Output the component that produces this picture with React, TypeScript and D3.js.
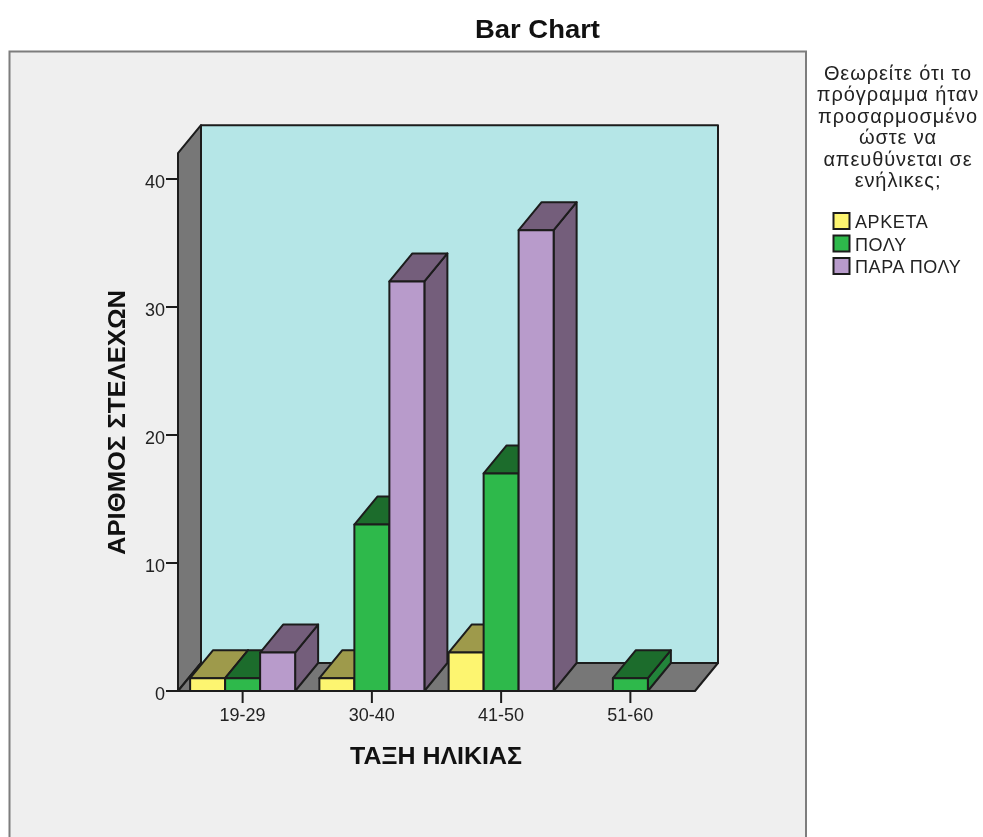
import React from "react";
import * as d3 from "d3";

const categories = ["19-29", "30-40", "41-50", "51-60"];
const seriesNames = ["ΑΡΚΕΤΑ", "ΠΟΛΥ", "ΠΑΡΑ ΠΟΛΥ"];
const arketa = [1, 1, 3, 0];
const poly = [1, 13, 17, 1];
const paraPoly = [3, 32, 36, 0];
const seriesValues = [arketa, poly, paraPoly];
const frontColors = ["#fdf570", "#2eb94b", "#b89bcb"];
const topColors = ["#9e9a4b", "#1c6c2c", "#745e7b"];
const sideColors = ["#9e9a4b", "#22843a", "#745e7b"];
const yTicks = [0, 10, 20, 30, 40];
const legendTitle = ["Θεωρείτε ότι το", "πρόγραμμα ήταν", "προσαρμοσμένο", "ώστε να", "απευθύνεται σε", "ενήλικες;"];

const font = "'Liberation Sans', Arial, sans-serif";
const stroke = "#1c1c1c";
const dx = 23;
const dy = -28;
const left = 178;
const right = 695;
const y = d3.scaleLinear().domain([0, 40]).range([691, 179]);
const x = d3.scaleBand<string>().domain(categories).range([left, right]);
const inner = d3.scaleBand<number>().domain([0, 1, 2]).range([-52.5, 52.5]);
const yTop = y(44.2);

const poly2 = (pts: number[][]) => pts.map((p) => p.join(",")).join(" ");

export default function App() {
  const bars: React.ReactNode[] = [];
  categories.forEach((c, ci) => {
    seriesValues.forEach((vals, si) => {
      const v = vals[ci];
      if (!v) return;
      const x0 = x(c)! + x.bandwidth() / 2 + inner(si)!;
      const x1 = x0 + inner.bandwidth();
      const yv = y(v);
      const y0 = y(0);
      bars.push(
        <g key={c + si} stroke={stroke} strokeWidth={2} strokeLinejoin="round">
          <polygon points={poly2([[x1, yv], [x1 + dx, yv + dy], [x1 + dx, y0 + dy], [x1, y0]])} fill={sideColors[si]} />
          <polygon points={poly2([[x0, yv], [x0 + dx, yv + dy], [x1 + dx, yv + dy], [x1, yv]])} fill={topColors[si]} />
          <rect x={x0} y={yv} width={x1 - x0} height={y0 - yv} fill={frontColors[si]} />
        </g>
      );
    });
  });

  return (
    <svg width={983} height={837} style={{ position: "absolute", left: 0, top: 0, background: "#fff", filter: "blur(0.4px)" }} fontFamily={font}>
      <text x={537.5} y={38} textAnchor="middle" fontSize={25} fontWeight="bold" fill="#111" textLength={125} lengthAdjust="spacingAndGlyphs">Bar Chart</text>
      <path d="M9.5,838 V51.5 H806 V838" fill="#efefef" stroke="#7d7d7d" strokeWidth={2} />

      <g stroke={stroke} strokeWidth={2} strokeLinejoin="round">
        <rect x={left + dx} y={yTop} width={right - left} height={y(0) + dy - yTop} fill="#b5e6e7" />
        <polygon points={poly2([[left, y(0)], [left + dx, y(0) + dy], [left + dx, yTop], [left, yTop - dy]])} fill="#777777" />
        <polygon points={poly2([[left, y(0)], [left + dx, y(0) + dy], [right + dx, y(0) + dy], [right, y(0)]])} fill="#777777" />
      </g>

      {bars}

      {yTicks.map((t) => (
        <g key={t}>
          <line x1={166} x2={178} y1={y(t)} y2={y(t)} stroke={stroke} strokeWidth={2} />
          <text x={165} y={y(t) + 9} textAnchor="end" fontSize={18} fill="#222">{t}</text>
        </g>
      ))}
      {categories.map((c) => {
        const cx = x(c)! + x.bandwidth() / 2;
        return (
          <g key={c}>
            <line x1={cx} x2={cx} y1={691} y2={703} stroke={stroke} strokeWidth={2} />
            <text x={cx} y={721} textAnchor="middle" fontSize={18} fill="#222">{c}</text>
          </g>
        );
      })}

      <text x={436} y={764} textAnchor="middle" fontSize={24} fontWeight="bold" fill="#111" textLength={172} lengthAdjust="spacingAndGlyphs">ΤΑΞΗ ΗΛΙΚΙΑΣ</text>
      <text transform="translate(125,422.5) rotate(-90)" textAnchor="middle" fontSize={24} fontWeight="bold" fill="#111" textLength={265} lengthAdjust="spacingAndGlyphs">ΑΡΙΘΜΟΣ ΣΤΕΛΕΧΩΝ</text>

      {legendTitle.map((l, i) => (
        <text key={i} x={898} y={80 + i * 21.4} textAnchor="middle" fontSize={20} letterSpacing={0.9} fill="#222">{l}</text>
      ))}
      {seriesNames.map((s, i) => (
        <g key={s}>
          <rect x={833.5} y={213 + i * 22.5} width={16} height={16} fill={frontColors[i]} stroke={stroke} strokeWidth={2} />
          <text x={855} y={228 + i * 22.5} fontSize={18} letterSpacing={0.6} fill="#222">{s}</text>
        </g>
      ))}
    </svg>
  );
}
